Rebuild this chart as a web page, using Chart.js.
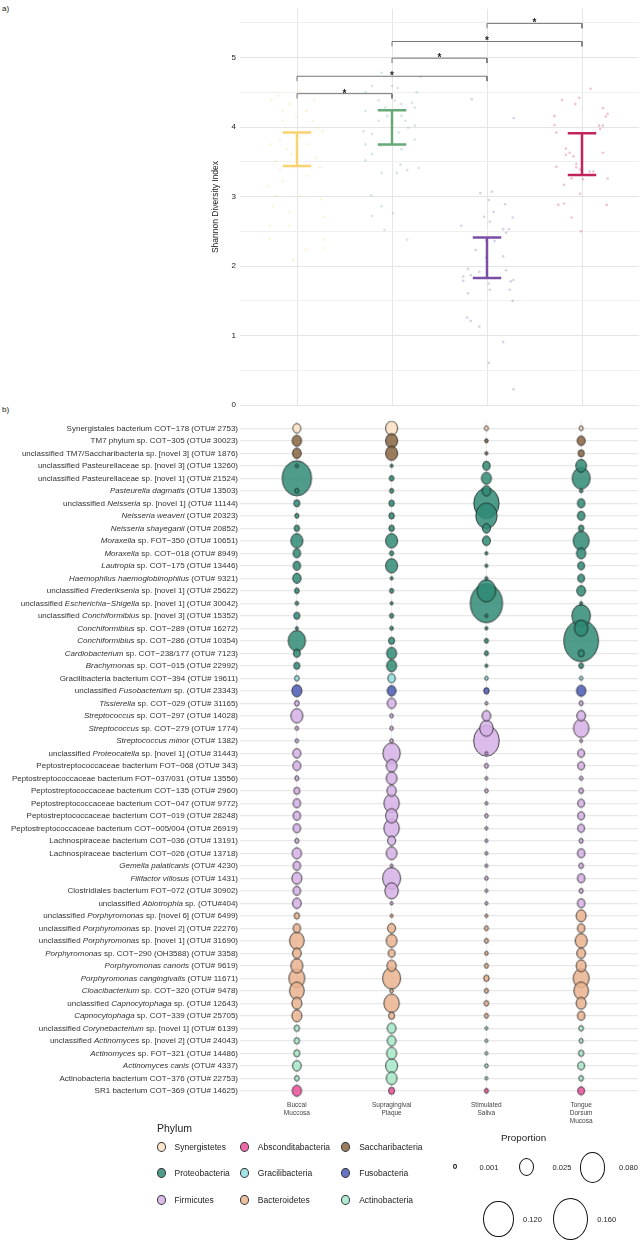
<!DOCTYPE html>
<html>
<head>
<meta charset="utf-8">
<script src="https://cdn.jsdelivr.net/npm/chart.js@4.4.1/dist/chart.umd.min.js"></script>
<style>
  body { margin: 0; background: #fff; width: 643px; height: 1240px; position: relative; overflow: hidden;
         font-family: "Liberation Sans", Arial, sans-serif; color: #222; }
  canvas { position: absolute; left: 0; }
  #chartA { top: 0; }
  #chartB { top: 395px; }
  .tag { position: absolute; font-size: 8px; color: #222; }
  .leg-title { position: absolute; color: #222; }
  .leg-item { position: absolute; display: flex; align-items: center; font-size: 8.5px; color: #222; white-space: nowrap; }
  .leg-dot { width: 9px; height: 10px; border-radius: 50%; border: 0.8px solid #333; box-sizing: border-box; margin-right: 5px; }
  .size-dot { position: absolute; border: 0.8px solid #111; border-radius: 50%; box-sizing: border-box; }
  .size-lab { position: absolute; font-size: 7.5px; color: #222; transform: translate(-50%, -50%); }
</style>
</head>
<body>
<div class="tag" style="left:2px;top:4px">a)</div>
<div class="tag" style="left:2px;top:405px">b)</div>
<canvas id="chartA" width="643" height="414"></canvas>
<canvas id="chartB" width="643" height="735"></canvas>
<div id="legend"></div>

<script>
// --- sites (shared x axis) ---
const sites = ['Buccal Muccosa', 'Supragingival Plaque', 'Stimulated Saliva', 'Tongue Dorsum Mucosa'];
const siteTicks = [['Buccal', 'Muccosa'], ['Supragingival', 'Plaque'], ['Stimulated', 'Saliva'], ['Tongue', 'Dorsum', 'Mucosa']];
const siteColors = ['#f8d470', '#68a979', '#7a4fa5', '#c2255d'];

// --- a) Shannon diversity: interval ends per site ---
const errLow = [3.44, 3.75, 1.83, 3.31];
const errHigh = [3.92, 4.24, 2.41, 3.91];

// jittered samples, [offset from site, Shannon index]
const jitterBuccal = [[-0.27,4.38],[-0.20,4.45],[-0.15,4.23],[-0.08,4.33],[0.03,4.52],[0.10,4.23],[0.18,4.38],[0.22,3.99],
  [0.27,3.94],[-0.18,3.82],[-0.11,3.68],[-0.06,3.61],[0.13,3.75],[0.20,3.56],[-0.18,3.39],[0.10,3.30],[-0.30,3.15],
  [-0.23,3.01],[0.03,3.01],[0.25,2.96],[-0.25,2.86],[-0.08,2.77],[0.28,2.71],[-0.08,2.58],[-0.29,2.58],[-0.29,2.39],
  [0.29,2.39],[0.29,2.26],[0.09,2.24],[-0.04,2.09],[-0.15,4.09],[-0.01,4.14],[0.17,4.09],[-0.11,3.92],[0.03,3.85],
  [-0.28,3.75],[-0.22,3.51],[-0.04,3.42],[0.24,3.42],[-0.15,3.22]];
const jitterPlaque = [[-0.28,4.50],[-0.21,4.59],[-0.11,4.78],[0.0,4.59],[0.06,4.56],[0.26,4.50],[-0.28,4.23],[-0.14,4.38],
  [-0.07,4.28],[0.10,4.33],[0.21,4.35],[0.24,4.28],[-0.30,3.94],[-0.21,3.90],[0.07,3.92],[0.17,3.99],[0.24,4.02],
  [-0.28,3.75],[-0.21,3.61],[0.10,3.68],[0.24,3.82],[-0.28,3.52],[0.09,3.46],[0.28,3.41],[-0.11,3.34],[0.05,3.34],
  [0.16,3.38],[-0.22,3.02],[-0.11,2.86],[0.01,2.76],[-0.21,2.72],[-0.08,2.52],[0.16,2.38],[0.30,4.72],[0.03,4.38],
  [-0.05,4.16],[0.10,4.16],[-0.14,4.09],[0.0,3.99],[0.14,4.09],[-0.12,3.73]];
const jitterSaliva = [[-0.16,4.40],[0.28,4.13],[-0.07,3.05],[0.05,3.07],[0.02,2.95],[0.19,2.89],[0.07,2.78],[-0.03,2.71],
  [0.03,2.64],[0.27,2.70],[-0.27,2.58],[0.17,2.53],[0.23,2.53],[0.20,2.48],[-0.01,2.37],[0.08,2.36],[-0.12,2.23],
  [0.17,2.14],[-0.01,2.12],[-0.20,1.96],[-0.25,1.85],[-0.17,1.87],[-0.08,1.92],[0.20,1.94],[-0.25,1.79],[0.28,1.80],
  [0.25,1.78],[0.02,1.75],[-0.20,1.61],[0.03,1.66],[0.24,1.66],[0.27,1.50],[-0.21,1.26],[-0.17,1.21],[-0.08,1.13],
  [0.17,0.91],[0.02,0.61],[0.28,0.23]];
const jitterTongue = [[0.09,4.55],[-0.21,4.39],[-0.03,4.42],[-0.07,4.33],[0.22,4.27],[0.27,4.19],[0.25,4.15],[-0.29,4.16],
  [-0.29,4.03],[0.18,4.02],[0.22,4.02],[0.19,3.97],[-0.27,3.92],[-0.17,3.69],[-0.13,3.63],[-0.09,3.58],[-0.17,3.60],
  [-0.06,3.47],[0.22,3.63],[-0.27,3.43],[-0.06,3.42],[-0.02,3.39],[0.08,3.36],[0.12,3.36],[-0.11,3.26],[0.01,3.25],
  [0.27,3.26],[-0.19,3.17],[-0.02,3.04],[-0.25,2.88],[-0.19,2.90],[0.26,2.88],[-0.11,2.70],[-0.01,2.50]];
const jitterSets = [jitterBuccal, jitterPlaque, jitterSaliva, jitterTongue];

// significance brackets (site numbers) and their heights
const sigPairs = [[1, 2], [1, 3], [2, 3], [2, 4], [3, 4]];
const sigHeights = [4.48, 4.73, 4.99, 5.23, 5.49];

// --- b) OTU proportions ---
const phyla = ['Synergistetes', 'Absconditabacteria', 'Saccharibacteria', 'Proteobacteria', 'Gracilibacteria',
  'Fusobacteria', 'Firmicutes', 'Bacteroidetes', 'Actinobacteria'];
const phylumColors = ['#fde0c2', '#ec4f9a', '#8a6642', '#2f8b74', '#8fdfe2', '#4b5bb5', '#d6b0e6', '#eab48f', '#a6e7c8'];

// *...* marks italic parts of a label
const otuLabels = [
  'Synergistales bacterium COT−178 (OTU# 2753)',
  'TM7 phylum sp. COT−305 (OTU# 30023)',
  'unclassified TM7/Saccharibacteria sp. [novel 3] (OTU# 1876)',
  'unclassified Pasteurellaceae sp. [novel 3] (OTU# 13260)',
  'unclassified Pasteurellaceae sp. [novel 1] (OTU# 21524)',
  '*Pasteurella dagmatis* (OTU# 13503)',
  'unclassified *Neisseria* sp. [novel 1] (OTU# 11144)',
  '*Neisseria weaveri* (OTU# 20323)',
  '*Neisseria shayeganii* (OTU# 20852)',
  '*Moraxella* sp. FOT−350 (OTU# 10651)',
  '*Moraxella* sp. COT−018 (OTU# 8949)',
  '*Lautropia* sp. COT−175 (OTU# 13446)',
  '*Haemophilus haemoglobinophilus* (OTU# 9321)',
  'unclassified *Frederiksenia* sp. [novel 1] (OTU# 25622)',
  'unclassified *Escherichia−Shigella* sp. [novel 1] (OTU# 30042)',
  'unclassified *Conchiformibius* sp. [novel 3] (OTU# 15352)',
  '*Conchiformibius* sp. COT−289 (OTU# 16272)',
  '*Conchiformibius* sp. COT−286 (OTU# 10354)',
  '*Cardiobacterium* sp. COT−238/177 (OTU# 7123)',
  '*Brachymonas* sp. COT−015 (OTU# 22992)',
  'Gracilibacteria bacterium COT−394 (OTU# 19611)',
  'unclassified *Fusobacterium* sp. (OTU# 23343)',
  '*Tissierella* sp. COT−029 (OTU# 31165)',
  '*Streptococcus* sp. COT−297 (OTU# 14028)',
  '*Streptococcus* sp. COT−279 (OTU# 1774)',
  '*Streptococcus minor* (OTU# 1382)',
  'unclassified *Proteocatella* sp. [novel 1] (OTU# 31443)',
  'Peptostreptococcaceae bacterium FOT−068 (OTU# 343)',
  'Peptostreptococcaceae bacterium FOT−037/031 (OTU# 13556)',
  'Peptostreptococcaceae bacterium COT−135 (OTU# 2960)',
  'Peptostreptococcaceae bacterium COT−047 (OTU# 9772)',
  'Peptostreptococcaceae bacterium COT−019 (OTU# 28248)',
  'Peptostreptococcaceae bacterium COT−005/004 (OTU# 26919)',
  'Lachnospiraceae bacterium COT−036 (OTU# 13191)',
  'Lachnospiraceae bacterium COT−026 (OTU# 13718)',
  '*Gemella palaticanis* (OTU# 4230)',
  '*Filifactor villosus* (OTU# 1431)',
  'Clostridiales bacterium FOT−072 (OTU# 30902)',
  'unclassified *Abiotrophia* sp. (OTU#404)',
  'unclassified *Porphyromonas* sp. [novel 6] (OTU# 6499)',
  'unclassified *Porphyromonas* sp. [novel 2] (OTU# 22276)',
  'unclassified *Porphyromonas* sp. [novel 1] (OTU# 31690)',
  '*Porphyromonas* sp. COT−290 (OH3588) (OTU# 3358)',
  '*Porphyromonas canoris* (OTU# 9619)',
  '*Porphyromonas cangingivalis* (OTU# 11671)',
  '*Cloacibacterium* sp. COT−320 (OTU# 9478)',
  'unclassified *Capnocytophaga* sp. (OTU# 12643)',
  '*Capnocytophaga* sp. COT−339 (OTU# 25705)',
  'unclassified *Corynebacterium* sp. [novel 1] (OTU# 6139)',
  'unclassified *Actinomyces* sp. [novel 2] (OTU# 24043)',
  '*Actinomyces* sp. FOT−321 (OTU# 14486)',
  '*Actinomyces canis* (OTU# 4337)',
  'Actinobacteria bacterium COT−376 (OTU# 22753)',
  'SR1 bacterium COT−369 (OTU# 14625)'
];

// phylum index for each OTU row
const otuPhylum = [0, 2, 2, 3, 3, 3, 3, 3, 3, 3, 3, 3, 3, 3, 3, 3, 3, 3, 3, 3, 4, 5,
  6, 6, 6, 6, 6, 6, 6, 6, 6, 6, 6, 6, 6, 6, 6, 6, 6, 7, 7, 7, 7, 7, 7, 7, 7, 7, 8, 8, 8, 8, 8, 1];

const propBuccal = [0.0052, 0.0078, 0.0065, 0.0002, 0.108, 0.0006, 0.0023, 0.0006, 0.0016, 0.0145, 0.0041, 0.0041,
  0.0058, 0.001, 0.0003, 0.0023, 0.0001, 0.034, 0.0032, 0.0023, 0.001, 0.0093, 0.001, 0.0145, 0.0003, 0.0003, 0.0052,
  0.0052, 0.0006, 0.0023, 0.0041, 0.0041, 0.0041, 0.0006, 0.0078, 0.0041, 0.0093, 0.0041, 0.0065, 0.0016, 0.0041,
  0.023, 0.0065, 0.0145, 0.028, 0.023, 0.0093, 0.0093, 0.0016, 0.0016, 0.0023, 0.0065, 0.001, 0.0078];
const propPlaque = [0.0145, 0.0145, 0.0145, 0.0001, 0.001, 0.0006, 0.0016, 0.0016, 0.0016, 0.0145, 0.0006, 0.0145,
  0.0001, 0.0006, 0.0001, 0.0006, 0.0003, 0.0023, 0.0093, 0.0093, 0.0041, 0.0065, 0.0065, 0.0003, 0.0003, 0.0003,
  0.034, 0.011, 0.011, 0.0078, 0.026, 0.0145, 0.026, 0.0052, 0.011, 0.0001, 0.037, 0.019, 0.0001, 0.0001, 0.0052,
  0.011, 0.0032, 0.0078, 0.037, 0.0003, 0.026, 0.0023, 0.0065, 0.0065, 0.0093, 0.0145, 0.011, 0.0023];
const propSaliva = [0.0006, 0.0003, 0.0001, 0.0041, 0.0093, 0.0065, 0.079, 0.054, 0.0052, 0.0052, 0.0001, 0.0001,
  0.0001, 0.040, 0.133, 0.0001, 0.0001, 0.0006, 0.0006, 0.0001, 0.0003, 0.0016, 0.0001, 0.0065, 0.019, 0.081, 0.0001,
  0.0006, 0.0001, 0.0003, 0.0001, 0.0003, 0.0001, 0.0001, 0.0001, 0.0001, 0.0003, 0.0001, 0.0001, 0.0001, 0.0006,
  0.0006, 0.0003, 0.0006, 0.0016, 0.0006, 0.001, 0.0006, 0.0001, 0.0001, 0.0001, 0.0003, 0.0001, 0.0006];
const propTongue = [0.0006, 0.0052, 0.0023, 0.011, 0.037, 0.0003, 0.0041, 0.0041, 0.0016, 0.028, 0.0078, 0.0032,
  0.0032, 0.0065, 0.0001, 0.040, 0.019, 0.155, 0.0023, 0.001, 0.0003, 0.0078, 0.0006, 0.0065, 0.026, 0.0001, 0.0032,
  0.0032, 0.0003, 0.001, 0.0032, 0.0032, 0.0032, 0.0006, 0.0041, 0.001, 0.0041, 0.0006, 0.0041, 0.0093, 0.0041,
  0.0145, 0.0065, 0.0093, 0.028, 0.023, 0.0093, 0.0041, 0.001, 0.0006, 0.0016, 0.0032, 0.001, 0.0032];
const propSets = [propBuccal, propPlaque, propSaliva, propTongue];

const legendSizes = [0.001, 0.025, 0.080, 0.120, 0.160];

// --- helpers ---
const FONT = '"Liberation Sans", Arial, sans-serif';
const hexA = (hex, a) => {
    const n = parseInt(hex.slice(1), 16);
    return `rgba(${n >> 16},${(n >> 8) & 255},${n & 255},${a})`;
};
// bubble width in px from proportion (area scales with value)
const bubbleWidth = (p) => 2 + 83 * Math.sqrt(p);
const ASPECT = 1.2;

const styleCache = {};
const bubbleStyle = (color, p) => {
    const w = bubbleWidth(p), h = w * ASPECT;
    const key = color + '|' + w.toFixed(2);
    if (!styleCache[key]) {
        const c = document.createElement('canvas');
        c.width = Math.ceil(w + 3);
        c.height = Math.ceil(h + 3);
        const g = c.getContext('2d');
        g.beginPath();
        g.ellipse(c.width / 2, c.height / 2, w / 2, h / 2, 0, 0, Math.PI * 2);
        g.fillStyle = hexA(color, 0.85);
        g.fill();
        g.lineWidth = 0.8;
        g.strokeStyle = '#1c1c1c';
        g.stroke();
        styleCache[key] = c;
    }
    return styleCache[key];
};

// ================= a) diversity chart =================
const capHalf = 0.15;
const errorBarData = (i) => {
    const x = i + 1;
    return [
        {x: x - capHalf, y: errHigh[i]}, {x: x + capHalf, y: errHigh[i]}, {x: x, y: null},
        {x: x, y: errHigh[i]}, {x: x, y: errLow[i]}, {x: x, y: null},
        {x: x - capHalf, y: errLow[i]}, {x: x + capHalf, y: errLow[i]}
    ];
};
const bracketDrop = 0.07;
const bracketData = () => {
    const pts = [];
    sigPairs.forEach(([a, b], k) => {
        const h = sigHeights[k];
        pts.push({x: a, y: h - bracketDrop}, {x: a, y: h}, {x: b, y: h}, {x: b, y: h - bracketDrop}, {x: b, y: null});
    });
    return pts;
};

const starPlugin = {
    id: 'stars',
    afterDatasetsDraw(chart) {
        const {ctx, scales: {x, y}} = chart;
        ctx.save();
        ctx.fillStyle = '#222';
        ctx.font = 'bold 10px ' + FONT;
        ctx.textAlign = 'center';
        ctx.textBaseline = 'alphabetic';
        sigPairs.forEach(([a, b], k) => {
            ctx.fillText('*', x.getPixelForValue((a + b) / 2), y.getPixelForValue(sigHeights[k]) + 3);
        });
        ctx.restore();
    }
};

const datasetsA = [];
jitterSets.forEach((set, i) => {
    datasetsA.push({
        data: set.map(([dx, v]) => ({x: i + 1 + dx, y: v})),
        pointRadius: 1.3,
        pointBorderWidth: 0,
        pointBackgroundColor: hexA(siteColors[i], i === 0 ? 0.25 : 0.28)
    });
});
siteColors.forEach((col, i) => {
    datasetsA.push({
        data: errorBarData(i),
        showLine: true,
        spanGaps: false,
        borderColor: col,
        borderWidth: 2.5,
        pointRadius: 0
    });
});
datasetsA.push({
    data: bracketData(),
    showLine: true,
    spanGaps: false,
    borderColor: '#777',
    borderWidth: 1,
    pointRadius: 0
});

new Chart(document.getElementById('chartA'), {
    type: 'scatter',
    data: {datasets: datasetsA},
    options: {
        responsive: false,
        animation: false,
        layout: {padding: {left: 211, top: 0, right: 0, bottom: 0}},
        plugins: {legend: {display: false}, tooltip: {enabled: false}},
        scales: {
            x: {
                type: 'linear', min: 0.4, max: 4.6,
                afterBuildTicks: (s) => { s.ticks = sites.map((_, i) => ({value: i + 1})); },
                afterFit: (s) => { s.height = 6; },
                ticks: {display: false},
                grid: {color: '#e6e6e6', drawTicks: false},
                border: {display: false}
            },
            y: {
                type: 'linear', min: 0, max: 5.7,
                afterBuildTicks: (s) => {
                    const t = [];
                    for (let v = 0; v <= 5.5; v += 0.5) t.push({value: v});
                    s.ticks = t;
                },
                afterFit: (s) => { s.width = 29; },
                ticks: {
                    padding: 4, color: '#222', font: {size: 8, family: FONT},
                    callback: (v) => Number.isInteger(v) ? v : ''
                },
                grid: {
                    drawTicks: false,
                    color: (c) => Number.isInteger(c.tick.value) ? '#e4e4e4' : '#efefef'
                },
                border: {display: false},
                title: {display: true, text: 'Shannon Diversity Index', color: '#222',
                    font: {size: 8.5, family: FONT}, padding: 0}
            }
        }
    },
    plugins: [starPlugin]
});

// ================= b) OTU bubble chart =================
const labelPlugin = {
    id: 'otuLabels',
    afterDraw(chart) {
        const {ctx, scales: {y}} = chart;
        ctx.save();
        ctx.fillStyle = '#333';
        ctx.textBaseline = 'middle';
        ctx.textAlign = 'left';
        otuLabels.forEach((label, i) => {
            const parts = label.split('*');
            let total = 0;
            const widths = parts.map((txt, k) => {
                ctx.font = (k % 2 ? 'italic ' : '') + '8px ' + FONT;
                const w = ctx.measureText(txt).width;
                total += w;
                return w;
            });
            let xPos = 238 - total;
            const yPos = y.getPixelForValue(i + 1);
            parts.forEach((txt, k) => {
                ctx.font = (k % 2 ? 'italic ' : '') + '8px ' + FONT;
                ctx.fillText(txt, xPos, yPos);
                xPos += widths[k];
            });
        });
        ctx.restore();
    }
};

const datasetsB = propSets.map((vals, s) => ({
    data: vals
        .map((p, i) => ({x: s + 1, y: i + 1, p: p, c: phylumColors[otuPhylum[i]]}))
        .sort((a, b) => b.p - a.p),
    pointRadius: 3,
    pointStyle: (ctx) => ctx.raw ? bubbleStyle(ctx.raw.c, ctx.raw.p) : 'circle'
}));

new Chart(document.getElementById('chartB'), {
    type: 'scatter',
    data: {datasets: datasetsB},
    options: {
        responsive: false,
        animation: false,
        layout: {padding: {left: 240, top: 25.8, right: 0, bottom: 0}},
        plugins: {legend: {display: false}, tooltip: {enabled: false}},
        scales: {
            x: {
                type: 'linear', min: 0.4, max: 4.6,
                afterBuildTicks: (s) => { s.ticks = sites.map((_, i) => ({value: i + 1})); },
                afterFit: (s) => { s.height = 31.7; },
                ticks: {
                    padding: 3, color: '#444', font: {size: 6.5, family: FONT, lineHeight: 1.2},
                    callback: (v) => siteTicks[v - 1]
                },
                grid: {color: '#eeeeee', drawTicks: false},
                border: {display: false}
            },
            y: {
                type: 'linear', min: 0.4, max: otuLabels.length + 0.6, reverse: true,
                afterBuildTicks: (s) => { s.ticks = otuLabels.map((_, i) => ({value: i + 1})); },
                afterFit: (s) => { s.width = 0; },
                ticks: {display: false},
                grid: {color: '#e8e8e8', lineWidth: 1.2, drawTicks: false},
                border: {display: false}
            }
        }
    },
    plugins: [labelPlugin]
});

// ================= legends =================
const legend = document.getElementById('legend');
const phylumPos = [
    [161, 1146.7], [244.3, 1146.7], [345.7, 1146.7],
    [161, 1173.3], [244.3, 1173.3], [345.7, 1173.3],
    [161, 1200], [244.3, 1200], [345.7, 1200]
];
const phylumOrder = ['Synergistetes', 'Absconditabacteria', 'Saccharibacteria', 'Proteobacteria', 'Gracilibacteria',
    'Fusobacteria', 'Firmicutes', 'Bacteroidetes', 'Actinobacteria'];

let html = '<div class="leg-title" style="left:157px;top:1122px;font-size:10.5px">Phylum</div>';
phylumOrder.forEach((name, k) => {
    const [cx, cy] = phylumPos[k];
    const col = phylumColors[phyla.indexOf(name)];
    html += `<div class="leg-item" style="left:${cx - 4.5}px;top:${cy - 6}px;height:12px">` +
        `<span class="leg-dot" style="background:${hexA(col, 0.85)}"></span>` +
        `<span style="margin-left:4px">${name}</span></div>`;
});

html += '<div class="leg-title" style="left:501px;top:1132px;font-size:9.8px">Proportion</div>';
const sizePos = [[455, 1166.7, 489], [526.7, 1167.3, 562], [592.7, 1167.3, 628.5], [498.3, 1219, 532.5], [570.7, 1219, 606.7]];
legendSizes.forEach((p, k) => {
    const [cx, cy, lx] = sizePos[k];
    const w = bubbleWidth(p), h = w * ASPECT;
    html += `<div class="size-dot" style="left:${cx - w / 2}px;top:${cy - h / 2}px;width:${w}px;height:${h}px"></div>`;
    html += `<div class="size-lab" style="left:${lx}px;top:${cy}px">${p.toFixed(3)}</div>`;
});
legend.innerHTML = html;
</script>
</body>
</html>
